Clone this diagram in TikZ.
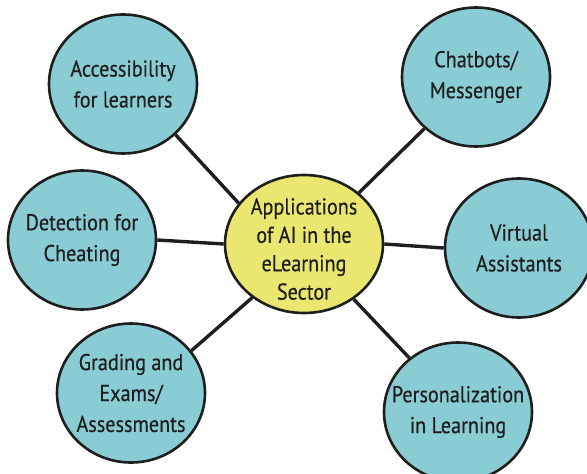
\documentclass[tikz,border=0pt]{standalone}
\usepackage{fontspec}
\setmainfont{PT Sans}[FakeStretch=0.88, FakeBold=0.4]
\usepackage{tikz}
\usetikzlibrary{shapes.geometric}

\definecolor{leafteal}{RGB}{138,204,212}
\definecolor{hubyellow}{RGB}{234,231,112}
\definecolor{inkgray}{RGB}{30,30,30}

\begin{document}
\begin{tikzpicture}[
        x=1bp, y=-1bp,
        leaf/.style={ellipse, draw=inkgray, line width=2.6bp, fill=leafteal,
            minimum width=148bp, minimum height=139bp, inner sep=0pt},
        hub/.style={leaf, fill=hubyellow, minimum width=158bp, minimum height=138bp},
        txt/.style={font=\fontsize{23}{31}\selectfont, align=center, text=inkgray, inner sep=0pt},
        e/.style={line width=3.4bp, draw=inkgray}
    ]
        \useasboundingbox (0,0) rectangle (587,474);
        \clip (0,0) rectangle (587,474);

        \node[hub, label={[txt, yshift=-5bp, font=\fontsize{23}{28.5}\selectfont]center:{Applications\\of AI in the\\eLearning\\Sector}}] (hub) at (304,244) {};

        \node[leaf, label={[txt]center:{Accessibility\\for learners}}] (acc) at (123,84) {};
        \node[leaf, label={[txt]center:{Chatbots/\\Messenger}}] (chat) at (476,77) {};
        \node[leaf, label={[txt]center:{Detection for\\Cheating}}] (det) at (82,240) {};
        \node[leaf, label={[txt]center:{Virtual\\Assistants}}] (virt) at (519,248) {};
        \node[leaf, label={[txt]center:{Grading and\\Exams/\\Assessments}}] (grad) at (131,393) {};
        \node[leaf, label={[txt]center:{Personalization\\in Learning}}] (pers) at (458,412) {};

        \draw[e] (hub.148) -- (acc.-44);
        \draw[e] (hub.43)  -- (chat.-135);
        \draw[e] (hub.180) -- (det.0);
        \draw[e] (hub.0)   -- (virt.180);
        \draw[e] (hub.226) -- (grad.35);
        \draw[e] (hub.-48) -- (pers.132);
    \end{tikzpicture}
\end{document}
